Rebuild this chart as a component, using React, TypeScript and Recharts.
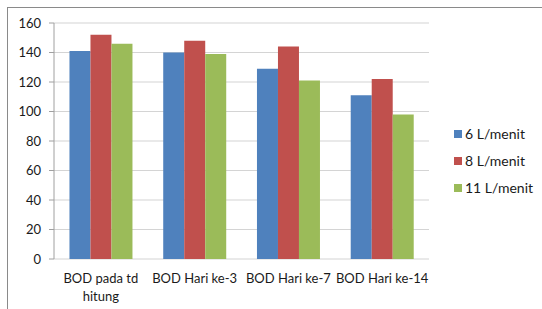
import { BarChart, Bar, XAxis, YAxis, CartesianGrid } from 'recharts'

const categories = ['BOD pada td\nhitung', 'BOD Hari ke-3', 'BOD Hari ke-7', 'BOD Hari ke-14']
const flow6 = [141, 140, 129, 111]
const flow8 = [152, 148, 144, 122]
const flow11 = [146, 139, 121, 98]
const yTicks = [0, 20, 40, 60, 80, 100, 120, 140, 160]
const edgeTicks = [0, 1, 2, 3, 4]

const series = [
  { key: 'a', name: '6 L/menit', color: '#4F81BD' },
  { key: 'b', name: '8 L/menit', color: '#C0504D' },
  { key: 'c', name: '11 L/menit', color: '#9BBB59' },
]

const data = categories.map((c, i) => ({ cat: c, a: flow6[i], b: flow8[i], c: flow11[i] }))

const font = 'Lato, "Liberation Sans", sans-serif'

function CatTick(props: any) {
  const { x, y, payload } = props
  const lines = String(payload.value).split('\n')
  return (
    <text x={x} y={y} textAnchor="middle" fontSize={13} fill="#1a1a1a" fontFamily={font}>
      {lines.map((l, i) => (
        <tspan key={i} x={x} dy={i === 0 ? 16 : 18}>{l}</tspan>
      ))}
    </text>
  )
}

function LegendBox() {
  return (
    <div style={{ position: 'absolute', left: 454, top: 120, fontFamily: font, fontSize: 14, color: '#1a1a1a' }}>
      {series.map(s => (
        <div key={s.key} style={{ display: 'flex', alignItems: 'center', height: 27 }}>
          <span style={{ width: 8, height: 8, background: s.color, marginRight: 3 }} />
          <span>{s.name}</span>
        </div>
      ))}
    </div>
  )
}

export default function App() {
  return (
    <div style={{ position: 'absolute', left: 0, top: 0, width: 542, height: 309, background: '#fff' }}>
      <div style={{
        position: 'absolute', left: 7, top: 7, right: 0, bottom: 0,
        borderTop: '1px solid #8a8a8a', borderLeft: '1px solid #8a8a8a',
      }} />
      <BarChart
        width={542}
        height={309}
        data={data}
        margin={{ top: 23, right: 113, left: 0, bottom: 0 }}
        barCategoryGap="16.5%"
        barGap={0}
      >
        <CartesianGrid vertical={false} stroke="#d4d4d4" strokeWidth={1.2} />
        <XAxis
          xAxisId="edge"
          type="number"
          domain={[0, 4]}
          ticks={edgeTicks}
          height={0}
          tickSize={5}
          tickFormatter={() => ''}
          stroke="#a0a0a0"
        />
        <XAxis
          xAxisId="cat"
          dataKey="cat"
          height={50}
          axisLine={false}
          tickLine={false}
          tick={<CatTick />}
          interval={0}
        />
        <YAxis
          domain={[0, 160]}
          ticks={yTicks}
          interval={0}
          width={54}
          tickSize={5}
          tickMargin={8}
          stroke="#a0a0a0"
          tick={{ fontSize: 13, fill: '#1a1a1a', fontFamily: font }}
        />
        {series.map(s => (
          <Bar
            key={s.key}
            xAxisId="cat"
            dataKey={s.key}
            name={s.name}
            fill={s.color}
            isAnimationActive={false}
          />
        ))}
      </BarChart>
      <LegendBox />
    </div>
  )
}
